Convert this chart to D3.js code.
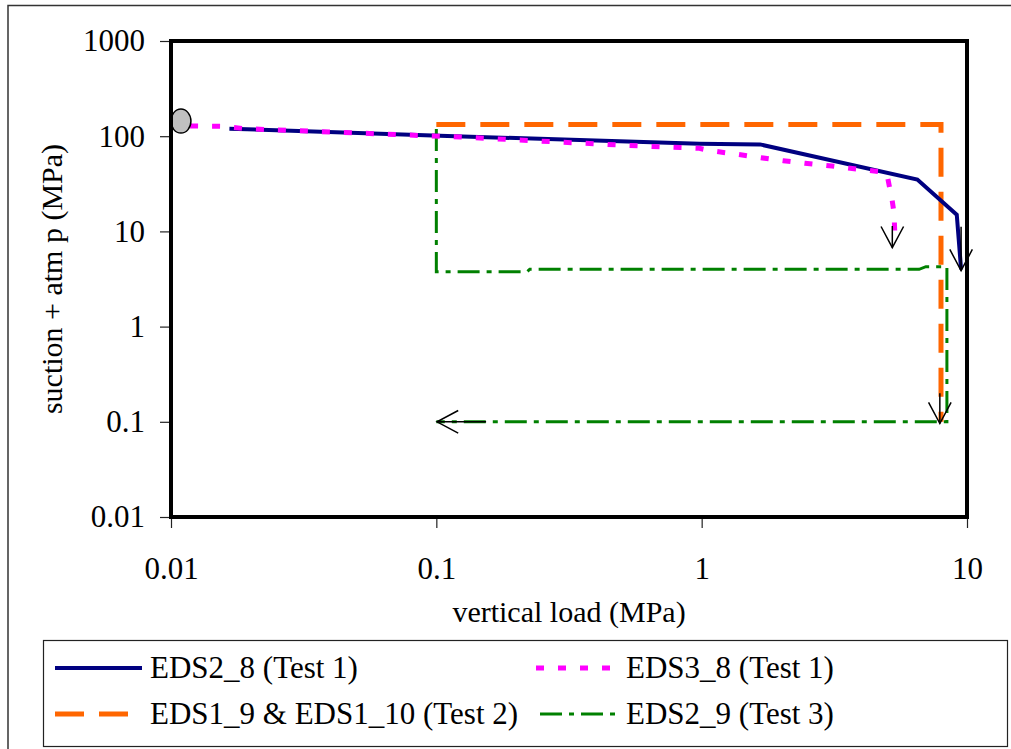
<!DOCTYPE html>
<html>
<head>
<meta charset="utf-8">
<script src="https://cdn.jsdelivr.net/npm/d3@7"></script>
<style>
  html, body { margin: 0; padding: 0; background: #fff; }
  svg { display: block; font-family: "Liberation Serif", "Times New Roman", serif; }
</style>
</head>
<body>
<svg id="chart" width="1011" height="749"></svg>
<script>
// axis ticks
const xTicks = [0.01, 0.1, 1, 10];
const yTicks = [0.01, 0.1, 1, 10, 100, 1000];
const xTickLabels = ["0.01", "0.1", "1", "10"];
const yTickLabels = ["0.01", "0.1", "1", "10", "100", "1000"];

// series: [vertical load (MPa), suction + atm p (MPa)]
const eds2_8 = [
  [0.0166, 120], [0.103, 101], [0.98, 83.4], [1.66, 82],
  [6.5, 35], [9.15, 15], [9.5, 4.0],
];
const eds3_8 = [
  [0.0118, 128], [0.0155, 127], [0.019, 120], [0.123, 98], [0.524, 80],
  [0.83, 76], [0.98, 74.6], [1.08, 70.4], [1.34, 65], [1.63, 60],
  [2.03, 55.3], [2.45, 52], [3.1, 48.6], [3.85, 45], [4.7, 42.4],
  [5.0, 39], [5.22, 21.4], [5.31, 15.6], [5.36, 7.5],
];
const eds1_9_10 = [[0.1, 133], [7.98, 133], [7.98, 0.1]];
const eds2_9 = [
  [0.1, 119], [0.1, 3.77], [0.22, 3.77], [0.225, 4.0], [6.6, 4.0],
  [7.0, 4.26], [8.4, 4.26], [8.4, 0.1], [0.1, 0.1],
];
const initialPoint = [[0.0109, 144]];

// arrows drawn over the paths: [from, to]
const arrows = [
  [[5.23, 11.4], [5.23, 6.74]],
  [[9.5, 11.2], [9.5, 3.87]],
  [[7.9, 0.2], [7.9, 0.096]],
  [[0.154, 0.1], [0.1006, 0.1]],
];

const seriesNames = [
  "EDS2_8 (Test 1)",
  "EDS3_8 (Test 1)",
  "EDS1_9 & EDS1_10 (Test 2)",
  "EDS2_9 (Test 3)",
];

const styles = [
  { color: "#000080", width: 4, dash: null },
  { color: "#ff00ff", width: 5, dash: "8,14" },
  { color: "#ff6600", width: 5, dash: "29,15" },
  { color: "#008000", width: 3, dash: "22,7,5,7" },
];

const plot = { left: 171, right: 967, top: 41, bottom: 517 };
const fontSize = 31;

const svg = d3.select("#chart");

const x = d3.scaleLog().domain([0.01, 10]).range([plot.left, plot.right]);
const y = d3.scaleLog().domain([0.01, 1000]).range([plot.bottom, plot.top]);

function appendBorder() {
  svg
    .append("rect")
    .attr("x", 8)
    .attr("y", 5.5)
    .attr("width", 1100)
    .attr("height", 900)
    .attr("fill", "none")
    .attr("stroke", "#333")
    .attr("stroke-width", 1.5);
}

function appendAxes() {
  const gx = svg
    .append("g")
    .attr("transform", `translate(0,${plot.bottom})`)
    .call(
      d3.axisBottom(x)
        .tickValues(xTicks)
        .tickFormat((_, i) => xTickLabels[i])
        .tickSize(11)
        .tickPadding(29)
    );
  const gy = svg
    .append("g")
    .attr("transform", `translate(${plot.left},0)`)
    .call(
      d3.axisLeft(y)
        .tickValues(yTicks)
        .tickFormat((_, i) => yTickLabels[i])
        .tickSize(11)
        .tickPadding(15)
    );
  [gx, gy].forEach((g) => {
    g.select(".domain").remove();
    g.selectAll(".tick line").attr("stroke", "#222").attr("stroke-width", 1.2);
    g.selectAll(".tick text")
      .attr("fill", "#000")
      .style("font-family", "Liberation Serif")
      .style("font-size", `${fontSize}px`);
  });

  svg
    .append("text")
    .attr("x", (plot.left + plot.right) / 2)
    .attr("y", 622)
    .attr("text-anchor", "middle")
    .style("font-size", "30px")
    .text("vertical load (MPa)");

  svg
    .append("text")
    .attr("transform", `translate(62,${(plot.top + plot.bottom) / 2}) rotate(-90)`)
    .attr("text-anchor", "middle")
    .style("font-size", "30px")
    .text("suction + atm p (MPa)");
}

function appendSeries() {
  const line = d3.line().x((d) => x(d[0])).y((d) => y(d[1]));
  const data = [eds2_8, eds3_8, eds1_9_10, eds2_9];
  // draw order: green, orange, navy, magenta
  [3, 2, 0, 1].forEach((i) => {
    svg
      .append("path")
      .attr("d", line(data[i]))
      .attr("fill", "none")
      .attr("stroke", styles[i].color)
      .attr("stroke-width", styles[i].width)
      .attr("stroke-dasharray", styles[i].dash);
  });

  svg
    .selectAll(".start")
    .data(initialPoint)
    .join("ellipse")
    .attr("cx", (d) => x(d[0]))
    .attr("cy", (d) => y(d[1]))
    .attr("rx", 10)
    .attr("ry", 12)
    .attr("fill", "#c0c0c0")
    .attr("stroke", "#000")
    .attr("stroke-width", 1.5);
}

function appendArrows() {
  const headLen = 24;
  const headAngle = (28 * Math.PI) / 180;
  arrows.forEach(([from, to]) => {
    const x1 = x(from[0]), y1 = y(from[1]);
    const x2 = x(to[0]), y2 = y(to[1]);
    const a = Math.atan2(y2 - y1, x2 - x1);
    const pts = [
      [x2 - headLen * Math.cos(a - headAngle), y2 - headLen * Math.sin(a - headAngle)],
      [x2, y2],
      [x2 - headLen * Math.cos(a + headAngle), y2 - headLen * Math.sin(a + headAngle)],
    ];
    const g = svg.append("g").attr("stroke", "#000").attr("stroke-width", 1.5).attr("fill", "none");
    g.append("line").attr("x1", x1).attr("y1", y1).attr("x2", x2).attr("y2", y2);
    g.append("path").attr("d", d3.line()(pts));
  });
}

function appendFrame() {
  svg
    .append("rect")
    .attr("x", plot.left)
    .attr("y", plot.top)
    .attr("width", plot.right - plot.left)
    .attr("height", plot.bottom - plot.top)
    .attr("fill", "none")
    .attr("stroke", "#000")
    .attr("stroke-width", 4);
}

function appendLegend() {
  svg
    .append("rect")
    .attr("x", 43.5)
    .attr("y", 640.5)
    .attr("width", 964)
    .attr("height", 106)
    .attr("fill", "#fff")
    .attr("stroke", "#222")
    .attr("stroke-width", 1.2);

  const items = [
    { i: 0, x0: 55, x1: 142, tx: 150, cy: 668 },
    { i: 1, x0: 536, x1: 618, tx: 626, cy: 668 },
    { i: 2, x0: 55, x1: 128, tx: 150, cy: 714 },
    { i: 3, x0: 540, x1: 621, tx: 626, cy: 714 },
  ];
  items.forEach((d) => {
    svg
      .append("line")
      .attr("x1", d.x0)
      .attr("x2", d.x1)
      .attr("y1", d.cy)
      .attr("y2", d.cy)
      .attr("stroke", styles[d.i].color)
      .attr("stroke-width", styles[d.i].width)
      .attr("stroke-dasharray", styles[d.i].dash);
    svg
      .append("text")
      .attr("x", d.tx)
      .attr("y", d.cy + 10)
      .style("font-size", `${fontSize}px`)
      .text(seriesNames[d.i]);
  });
}

appendBorder();
appendAxes();
appendSeries();
appendArrows();
appendFrame();
appendLegend();
</script>
</body>
</html>
